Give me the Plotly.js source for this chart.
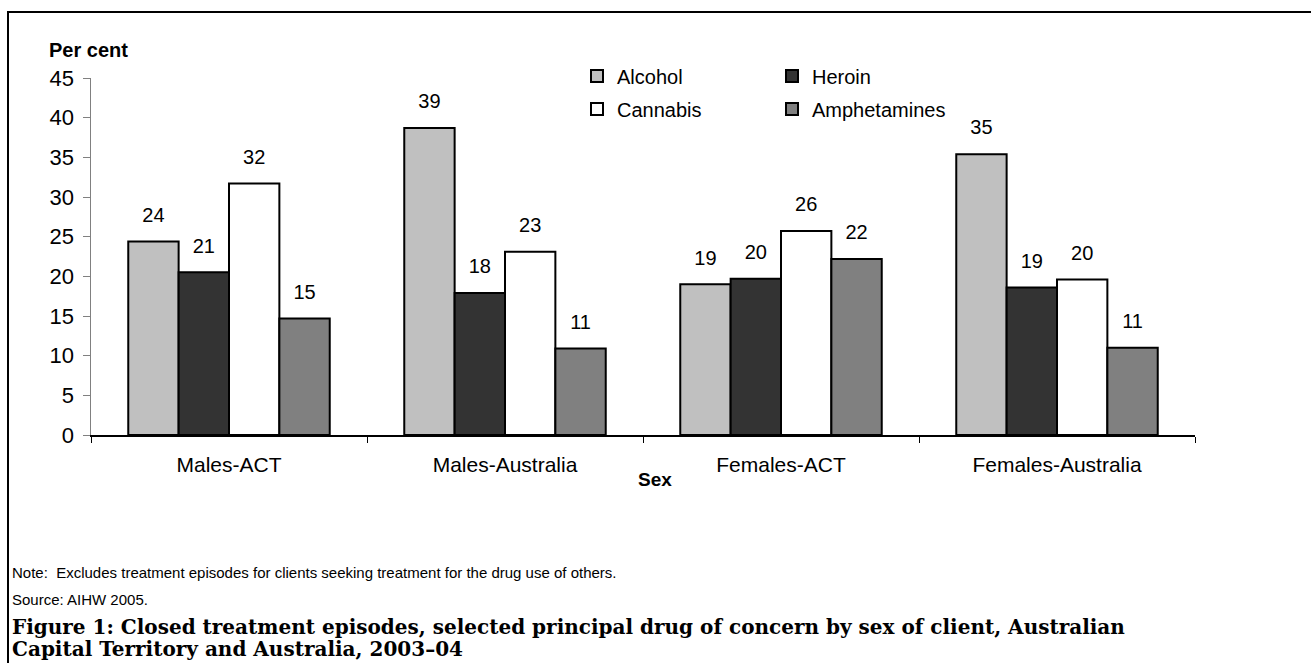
<!DOCTYPE html>
<html>
<head>
<meta charset="utf-8">
<script src="https://cdn.plot.ly/plotly-3.0.1.min.js"></script>
<style>html,body{margin:0;padding:0;background:#fff;}#chart{width:1311px;height:663px;}</style>
</head>
<body>
<div id="chart"></div>
<script>
const categories = ["Males-ACT", "Males-Australia", "Females-ACT", "Females-Australia"];
const seriesNames = ["Alcohol", "Heroin", "Cannabis", "Amphetamines"];
const alcohol = [24.4, 38.7, 19.0, 35.4];
const heroin = [20.5, 17.9, 19.7, 18.6];
const cannabis = [31.7, 23.1, 25.7, 19.6];
const amphetamines = [14.7, 10.9, 22.2, 11.0];
const seriesValues = [alcohol, heroin, cannabis, amphetamines];
const seriesColors = ["#c0c0c0", "#333333", "#ffffff", "#808080"];
const legendOf = ["legend", "legend", "legend2", "legend2"];
const yTicks = [0, 5, 10, 15, 20, 25, 30, 35, 40, 45];

const FONT = "Liberation Sans, Arial, sans-serif";
const traces = [];
seriesValues.forEach((vals, i) => {
  traces.push({
    type: "bar", name: seriesNames[i], x: categories, y: vals,
    offsetgroup: String(i), legend: legendOf[i],
    marker: {color: seriesColors[i], line: {color: "#000", width: 2}},
    hoverinfo: "x+y"
  });
});
seriesValues.forEach((vals, i) => {
  traces.push({
    type: "scatter", mode: "markers+text", showlegend: false,
    x: categories, y: vals, offsetgroup: String(i),
    text: vals.map(v => Math.round(v).toString()),
    textposition: "top center",
    textfont: {family: FONT, size: 20, color: "#000"},
    marker: {size: 22, opacity: 0},
    hoverinfo: "skip", cliponaxis: false
  });
});

const L = 91, R = 1195, T = 78, B = 435, W = 1311, H = 663;
const px = x => (x - L) / (R - L);
const py = y => (B - y) / (B - T);

const layout = {
  width: W, height: H,
  margin: {l: L, r: W - R, t: T, b: H - B, pad: 0},
  paper_bgcolor: "#fff", plot_bgcolor: "#fff",
  font: {family: FONT, size: 20, color: "#000"},
  barmode: "group", scattermode: "group", bargap: 0.27, bargroupgap: 0,
  xaxis: {
    type: "category", categoryorder: "array", categoryarray: categories,
    showline: true, linecolor: "#000", linewidth: 1.5,
    ticks: "outside", tickson: "boundaries", ticklen: 6, tickcolor: "#000", tickwidth: 1,
    showgrid: false, zeroline: false,
    tickfont: {family: FONT, size: 21},
    ticklabelstandoff: 10
  },
  yaxis: {
    range: [0, 45], tickvals: yTicks, ticktext: yTicks.map(String),
    showline: true, linecolor: "#808080", linewidth: 1.5,
    ticks: "outside", ticklen: 7, tickcolor: "#808080", tickwidth: 1,
    showgrid: false, zeroline: false,
    tickfont: {family: FONT, size: 22},
    ticklabelstandoff: 4
  },
  showlegend: true,
  legend: {
    orientation: "h", x: px(577), xanchor: "left", y: py(76), yanchor: "middle",
    entrywidth: 150, entrywidthmode: "pixels", traceorder: "normal",
    font: {family: FONT, size: 20}, bgcolor: "rgba(0,0,0,0)", itemclick: false
  },
  legend2: {
    orientation: "h", x: px(577), xanchor: "left", y: py(109), yanchor: "middle",
    entrywidth: 150, entrywidthmode: "pixels", traceorder: "normal",
    font: {family: FONT, size: 20}, bgcolor: "rgba(0,0,0,0)", itemclick: false
  },
  shapes: [
    {type: "rect", xref: "paper", yref: "paper", x0: px(8), x1: px(1400), y0: py(720), y1: py(12),
     line: {color: "#000", width: 2}, fillcolor: "rgba(0,0,0,0)", layer: "below"}
  ],
  annotations: [
    {xref: "paper", yref: "paper", x: px(47), y: py(50), xanchor: "left", yanchor: "middle",
     text: "<b>Per cent</b>", showarrow: false, font: {family: FONT, size: 20}},
    {xref: "paper", yref: "paper", x: px(655), y: py(479), xanchor: "center", yanchor: "middle",
     text: "<b>Sex</b>", showarrow: false, font: {family: FONT, size: 19}},
    {xref: "paper", yref: "paper", x: px(10), y: py(572), xanchor: "left", yanchor: "middle",
     text: "Note:  Excludes treatment episodes for clients seeking treatment for the drug use of others.",
     showarrow: false, font: {family: FONT, size: 15}},
    {xref: "paper", yref: "paper", x: px(10), y: py(599), xanchor: "left", yanchor: "middle",
     text: "Source: AIHW 2005.", showarrow: false, font: {family: FONT, size: 15}},
    {xref: "paper", yref: "paper", x: px(10), y: py(627), xanchor: "left", yanchor: "middle",
     text: "<b>Figure 1: Closed treatment episodes, selected principal drug of concern by sex of client, Australian</b>",
     showarrow: false, font: {family: "DejaVu Serif, serif", size: 20}},
    {xref: "paper", yref: "paper", x: px(10), y: py(649), xanchor: "left", yanchor: "middle",
     text: "<b>Capital Territory and Australia, 2003–04</b>",
     showarrow: false, font: {family: "DejaVu Serif, serif", size: 20}}
  ]
};

Plotly.newPlot("chart", traces, layout, {displayModeBar: false, staticPlot: true});
</script>
</body>
</html>
